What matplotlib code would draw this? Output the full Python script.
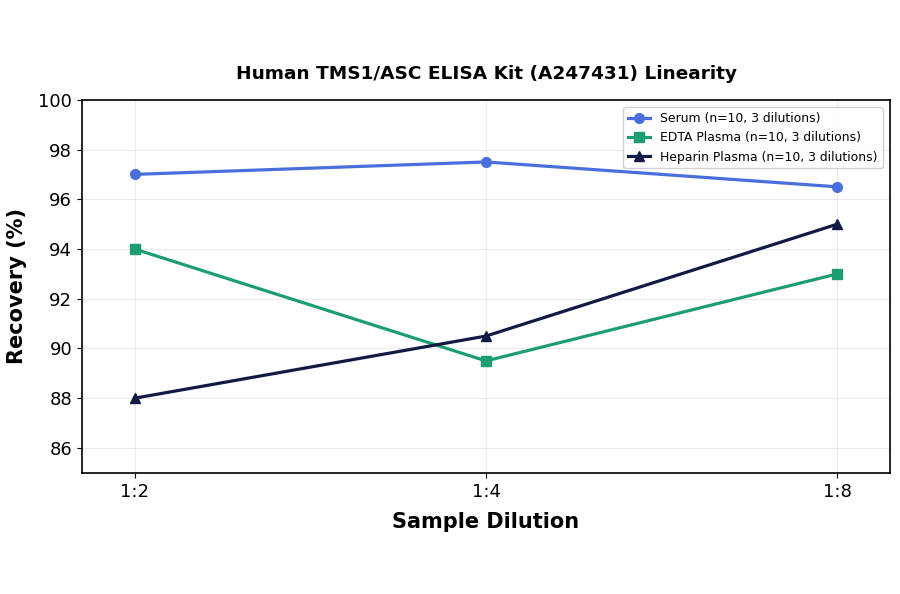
import numpy as np
import matplotlib
matplotlib.use("Agg")
import matplotlib.pyplot as plt

dilutions = ["1:2", "1:4", "1:8"]
serum = [97.0, 97.5, 96.5]
edta = [94.0, 89.5, 93.0]
heparin = [88.0, 90.5, 95.0]

series = [
    ("Serum (n=10, 3 dilutions)", serum, "#4A6FDC", "o"),
    ("EDTA Plasma (n=10, 3 dilutions)", edta, "#1E9C74", "s"),
    ("Heparin Plasma (n=10, 3 dilutions)", heparin, "#111A45", "^"),
]

fig = plt.figure(figsize=(9, 5.94), dpi=100)
ax = fig.add_axes([0.091, 0.204, 0.898, 0.628])

x = np.arange(len(dilutions))
for label, vals, color, marker in series:
    ax.plot(x, vals, color=color, marker=marker, linewidth=2.3, markersize=7, label=label)

ax.set_xticks(x)
ax.set_xticklabels(dilutions)
ax.set_xlim(-0.15, 2.15)
ax.set_ylim(85, 100)
ax.set_yticks(np.arange(86, 101, 2))
ax.tick_params(labelsize=13)
ax.grid(True, alpha=0.3, linewidth=0.6)
for s in ax.spines.values():
    s.set_linewidth(1.2)

ax.set_xlabel("Sample Dilution", fontsize=15, fontweight="bold", labelpad=8)
ax.set_ylabel("Recovery (%)", fontsize=15, fontweight="bold", labelpad=8)
ax.set_title("Human TMS1/ASC ELISA Kit (A247431) Linearity", fontsize=13.3, fontweight="bold", pad=15)
ax.legend(loc="upper right", fontsize=8.9, framealpha=0.9, handlelength=1.8, borderaxespad=0.6)

fig.savefig("out.png", dpi=100)
